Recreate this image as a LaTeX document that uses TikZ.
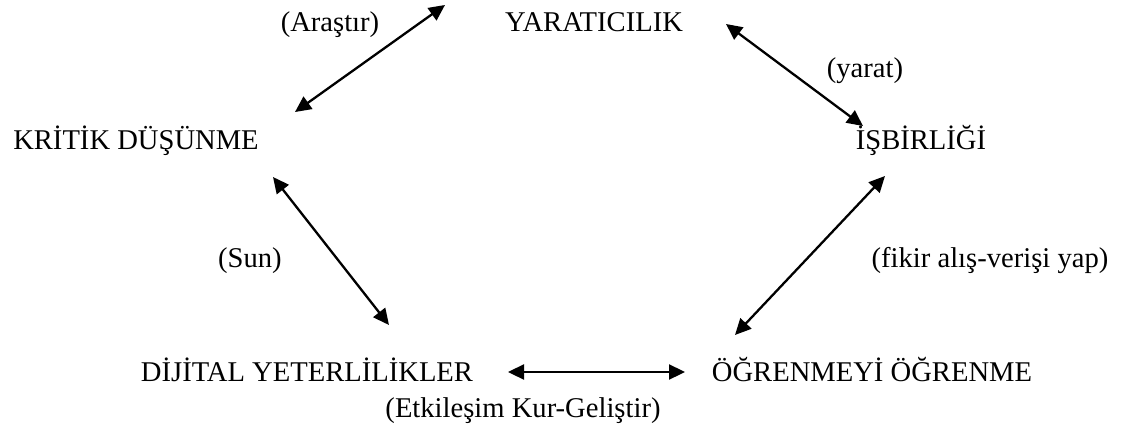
\documentclass[tikz,border=0pt]{standalone}
\usepackage{fontspec}
\setmainfont{Liberation Serif}
\usetikzlibrary{arrows.meta}
\begin{document}
\begin{tikzpicture}[x=0.5pt,y=-0.5pt,
  lbl/.style={anchor=base,inner sep=0pt,font=\fontsize{14.3}{17}\selectfont},
  link/.style={{Triangle[length=8pt,width=7.5pt]}-{Triangle[length=8pt,width=7.5pt]},line width=1.15pt}]
\path[use as bounding box] (0,0) rectangle (1132,434);
\node[lbl] (y) at (594,31) {YARATICILIK};
\node[lbl] (ar) at (330,31) {(Araştır)};
\node[lbl] (ya) at (865,77) {(yarat)};
\node[lbl] (k) at (136,149) {KRİTİK DÜŞÜNME};
\node[lbl] (i) at (921,149) {İŞBİRLİĞİ};
\node[lbl] (sun) at (250,267) {(Sun)};
\node[lbl] (fi) at (990,267) {(fikir alış-verişi yap)};
\node[lbl] (d) at (307,381) {DİJİTAL YETERLİLİKLER};
\node[lbl] (o) at (872,381) {ÖĞRENMEYİ ÖĞRENME};
\node[lbl] (et) at (523,417) {(Etkileşim Kur-Geliştir)};
\coordinate (a1) at (295,112); \coordinate (a2) at (445,5);
\coordinate (b1) at (726,24); \coordinate (b2) at (863,126);
\coordinate (c1) at (273,177); \coordinate (c2) at (389,325);
\coordinate (d1) at (885,176); \coordinate (d2) at (735,335);
\coordinate (e1) at (508,372); \coordinate (e2) at (685,372);
\draw[link] (a1) -- (a2);
\draw[link] (b1) -- (b2);
\draw[link] (c1) -- (c2);
\draw[link] (d1) -- (d2);
\draw[link] (e1) -- (e2);
\end{tikzpicture}
\end{document}
